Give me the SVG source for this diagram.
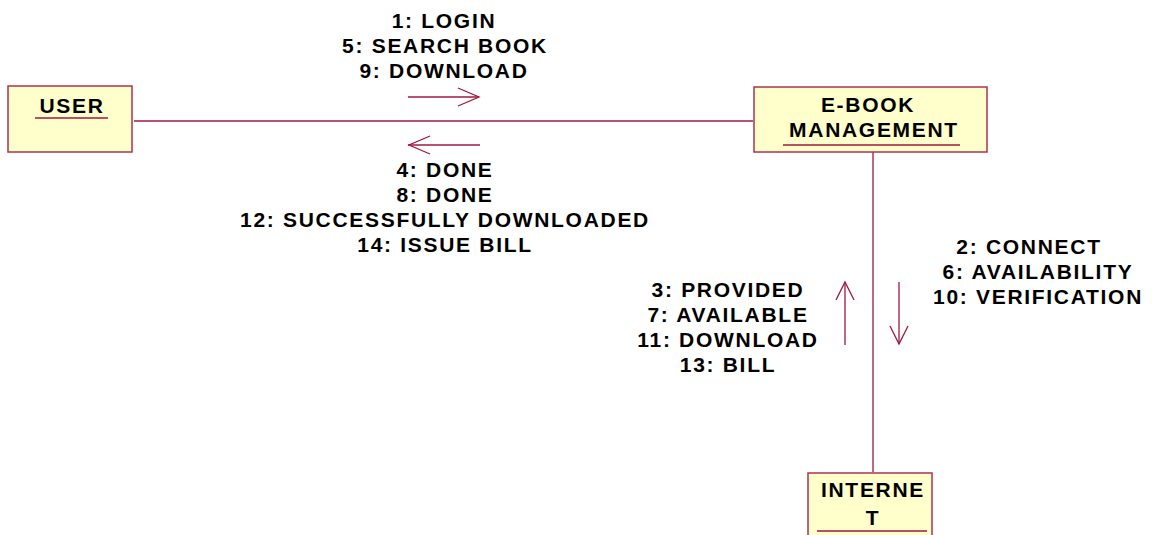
<svg xmlns="http://www.w3.org/2000/svg" width="1152" height="535" viewBox="0 0 1152 535">
<style>
.box{fill:#ffffcc;stroke:#b03050;stroke-width:1.5}
.ul{stroke:#a01840;stroke-width:1.5}
.ln{stroke:#a01840;stroke-width:1.3;fill:none}
text{font-family:"Liberation Sans",Arial,sans-serif;font-weight:bold;font-size:21px;letter-spacing:1.7px;fill:#000;text-anchor:middle}
</style>
<rect width="1152" height="535" fill="#fff"/>
<g id="connectors">
<line class="ln" x1="134" y1="121" x2="753" y2="121"/>
<line class="ln" x1="873" y1="152" x2="873" y2="472"/>
<polyline class="ln" points="408,97 479,97"/>
<polyline class="ln" points="458,88 479,97 458,106"/>
<polyline class="ln" points="408,145 480,145"/>
<polyline class="ln" points="430,136 409,145 430,154"/>
<polyline class="ln" points="845,345 845,282"/>
<polyline class="ln" points="836,300 845,282 854,300"/>
<polyline class="ln" points="899,282 899,344"/>
<polyline class="ln" points="890,326 899,344 908,326"/>
<text x="444" y="28">1: LOGIN</text>
<text x="445" y="53">5: SEARCH BOOK</text>
<text x="444" y="78">9: DOWNLOAD</text>
<text x="445" y="177">4: DONE</text>
<text x="445" y="202">8: DONE</text>
<text x="445" y="227">12: SUCCESSFULLY DOWNLOADED</text>
<text x="445" y="252">14: ISSUE BILL</text>
<text x="1029" y="254">2: CONNECT</text>
<text x="1038" y="279">6: AVAILABILITY</text>
<text x="1038" y="304">10: VERIFICATION</text>
<text x="728" y="297">3: PROVIDED</text>
<text x="728" y="322">7: AVAILABLE</text>
<text x="728" y="347">11: DOWNLOAD</text>
<text x="728" y="372">13: BILL</text>
</g>
<g id="user">
<rect class="box" x="8" y="86" width="124" height="66"/>
<text x="72" y="113">USER</text>
<line class="ul" x1="35" y1="118" x2="108" y2="118"/>
</g>
<g id="ebook">
<rect class="box" x="754" y="87" width="233" height="65"/>
<text x="868" y="112">E-BOOK</text>
<text x="874" y="137">MANAGEMENT</text>
<line class="ul" x1="783" y1="145" x2="960" y2="145"/>
</g>
<g id="internet">
<rect class="box" x="808" y="473" width="124" height="70"/>
<text x="873" y="497">INTERNE</text>
<text x="873" y="525">T</text>
<line class="ul" x1="817" y1="531" x2="927" y2="531"/>
</g>
</svg>
